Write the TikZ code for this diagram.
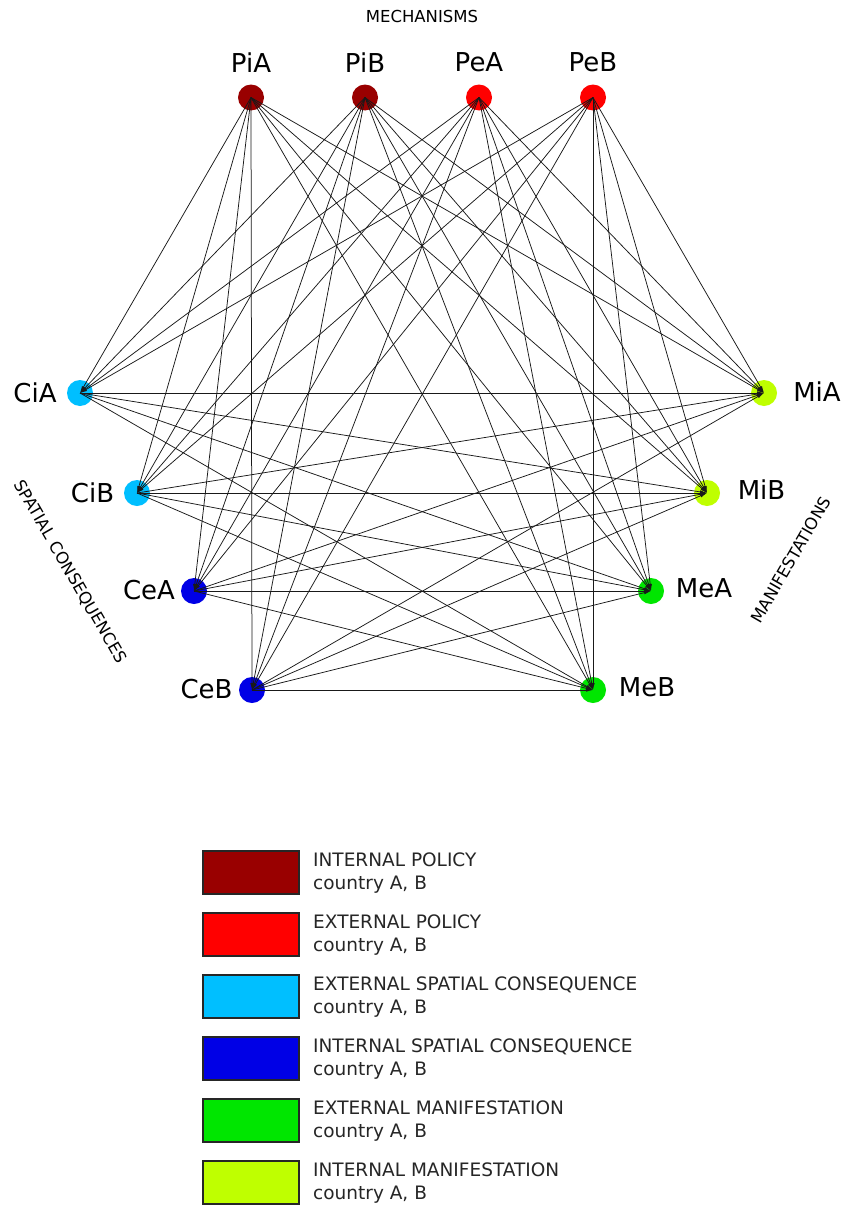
\documentclass[tikz,border=0pt]{standalone}
\usepackage{fontspec}
\setmainfont{DejaVu Sans}
\usetikzlibrary{arrows.meta}

\definecolor{ipol}{HTML}{990000}
\definecolor{epol}{HTML}{FF0000}
\definecolor{espa}{HTML}{00BFFF}
\definecolor{ispa}{HTML}{0000E6}
\definecolor{eman}{HTML}{00E600}
\definecolor{iman}{HTML}{BFFF00}

\begin{document}
\begin{tikzpicture}[x=1pt,y=-1pt,
  vert/.style={circle,inner sep=0pt,minimum size=26pt},
  vlabel/.style={font=\fontsize{26}{30}\selectfont,inner sep=0pt,text=black},
  grouplabel/.style={font=\fontsize{16.5}{20}\selectfont,inner sep=0pt,text=black},
  link/.style={draw=black!90,line width=0.75pt,-{Latex[length=7pt,width=3.5pt]}},
  legbox/.style={draw=black!85,line width=1.3pt,minimum width=96pt,minimum height=43pt,inner sep=0pt},
  legtext/.style={font=\fontsize{18.5}{22}\selectfont,inner sep=0pt,text=black!85}]

\useasboundingbox (0,0) rectangle (847,1207);
\fill[white] (0,0) rectangle (847,1207);

% group titles
\node[grouplabel] (mech) at (422,16) {MECHANISMS};
\node[grouplabel,rotate=-60] (spat) at (70,572) {SPATIAL CONSEQUENCES};
\node[grouplabel,rotate=60] (mani) at (791,560) {MANIFESTATIONS};

% policy nodes
\node[vert,fill=ipol] (PiA) at (251,97.5) {};
\node[vert,fill=ipol] (PiB) at (365,97.5) {};
\node[vert,fill=epol] (PeA) at (479,97.5) {};
\node[vert,fill=epol] (PeB) at (593,97.5) {};
% spatial consequence nodes
\node[vert,fill=espa] (CiA) at (80,393) {};
\node[vert,fill=espa] (CiB) at (137,493) {};
\node[vert,fill=ispa] (CeA) at (194,591) {};
\node[vert,fill=ispa] (CeB) at (252,690) {};
% manifestation nodes
\node[vert,fill=iman] (MiA) at (764,393) {};
\node[vert,fill=iman] (MiB) at (707,493) {};
\node[vert,fill=eman] (MeA) at (651,591) {};
\node[vert,fill=eman] (MeB) at (593,690) {};

% vertex labels
\node[vlabel] (PiAl) at (251,62.5) {PiA};
\node[vlabel] (PiBl) at (365,62.5) {PiB};
\node[vlabel] (PeAl) at (479,62.5) {PeA};
\node[vlabel] (PeBl) at (593,62.5) {PeB};
\node[vlabel] (CiAl) at (35,392.5) {CiA};
\node[vlabel] (CiBl) at (92.5,492.5) {CiB};
\node[vlabel] (CeAl) at (149,590) {CeA};
\node[vlabel] (CeBl) at (206.5,689) {CeB};
\node[vlabel] (MiAl) at (817,392) {MiA};
\node[vlabel] (MiBl) at (761.5,490) {MiB};
\node[vlabel] (MeAl) at (704,588) {MeA};
\node[vlabel] (MeBl) at (647,687.5) {MeB};

% links: policies to consequences and manifestations
\foreach \s in {PiA,PiB,PeA,PeB}
  \foreach \t in {CiA,CiB,CeA,CeB,MiA,MiB,MeA,MeB}
    \draw[link] (\s.center) -- (\t.center);
% links: consequences to manifestations
\foreach \s in {CiA,CiB,CeA,CeB}
  \foreach \t in {MiA,MiB,MeA,MeB}
    \draw[link] (\s.center) -- (\t.center);

% legend
\foreach \i/\c/\t in {0/ipol/INTERNAL POLICY,
                      1/epol/EXTERNAL POLICY,
                      2/espa/EXTERNAL SPATIAL CONSEQUENCE,
                      3/ispa/INTERNAL SPATIAL CONSEQUENCE,
                      4/eman/EXTERNAL MANIFESTATION,
                      5/iman/INTERNAL MANIFESTATION} {
  \node[legbox,fill=\c] (box\i) at (251,872.5+62*\i) {};
  \node[legtext,anchor=base west] (cat\i) at (313,866+62*\i) {\t};
  \node[legtext,anchor=base west] (cty\i) at (313,889+62*\i) {country A, B};
}
\end{tikzpicture}
\end{document}
